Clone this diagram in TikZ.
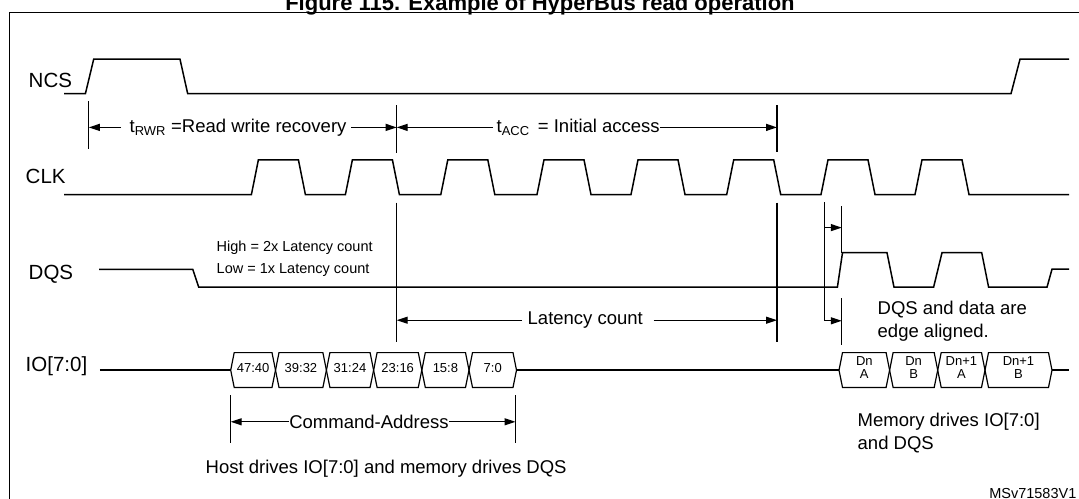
\documentclass[tikz,border=0pt]{standalone}
\usepackage{fontspec}
\setmainfont{Liberation Sans}
\usetikzlibrary{arrows.meta}
\begin{document}
\begin{tikzpicture}[x=1pt,y=-1pt,line width=1.4pt,
  wave/.style={line width=1.5pt,line join=miter},
  dim/.style={line width=1.3pt},
  arr/.style={dim,-{Triangle[length=11pt,width=7pt]}},
  lbl/.style={font=\fontsize{20.5}{23}\selectfont,anchor=west,inner sep=0},
  txt/.style={font=\fontsize{18.5}{23}\selectfont,inner sep=0},
  small/.style={font=\fontsize{14.5}{17}\selectfont,inner sep=0},
  boxt/.style={font=\fontsize{13}{13}\selectfont,inner sep=0,align=center}]
\useasboundingbox (0,0) rectangle (1079,498);
\fill[white] (0,0) rectangle (1079,498);
% title and frame
\node[font=\bfseries\fontsize{22}{26}\selectfont,anchor=base,inner sep=0] (title) at (540,10) {Figure 115. Example of HyperBus read operation};
\draw[line width=1.6pt] (9.3,520) -- (9.3,12.4) -- (1090,12.4);
% labels
\node[lbl] (ncs) at (28,80) {NCS};
\node[lbl] (clk) at (25,176) {CLK};
\node[lbl] (dqs) at (28,274) {DQS};
\node[lbl] (io) at (25,366) {IO[7:0]};
% NCS
\draw[wave] (64,93.7) -- (85.4,93.7) -- (93.7,59.2) -- (180,59.2) -- (187.7,93.7) -- (1011,93.7) -- (1020,59.2) -- (1069,59.2);
% CLK
\draw[wave] (64,194.6)
  \foreach \r in {251.4,345.4,440.8,537,631,726.7,821,915}{
    -- (\r,194.6) -- (\r+7,159.8) -- (\r+47,159.8) -- (\r+54,194.6)}
  -- (1069,194.6);
% DQS
\draw[wave] (99,269.3) -- (192.8,269.3) -- (198.7,287.2) -- (837.4,287.2) -- (842.5,252.7) -- (887,252.7) -- (894,287.2) -- (933.6,287.2) -- (942,252.7) -- (981.7,252.7) -- (988.6,287.2) -- (1047,287.2) -- (1052,269.2) -- (1069,269.2);
\node[small,anchor=west] (hi) at (216,247.6) {High = 2x Latency count};
\node[small,anchor=west] (lo) at (216,270) {Low = 1x Latency count};
% IO bus
\draw[wave] (99.9,370.2) -- (230.7,370.2);
\draw[wave] (516.5,370.2) -- (839,370.2);
\draw[wave] (1052,370.2) -- (1069,370.2);
\foreach \a/\b/\t in {230.7/275.5/47:40,275.5/326.4/39:32,326.4/373.6/31:24,373.6/421.8/23:16,421.8/469/15:8,469/516.5/7:0,
  839/889.6/{Dn\\A},889.6/937.7/{Dn\\B},937.7/985/{Dn+1\\A},985/1052/{Dn+1\\B}}{
  \draw[line width=1.2pt,line join=miter] (\a,370.2) -- (\a+3.5,352.6) -- (\b-3.5,352.6) -- (\b,370.2) -- (\b-3.5,387.4) -- (\a+3.5,387.4) -- cycle;
  \node[boxt] at ({(\a+\b)/2},368) {\t};
}
% timing markers
\coordinate (b1t) at (88.8,101); \coordinate (b1b) at (88.8,149);
\coordinate (b2t) at (396.7,105); \coordinate (b2b) at (396.7,153);
\coordinate (b3t) at (777,105); \coordinate (b3b) at (777,152);
\draw[dim] (b1t) -- (b1b); \draw[dim] (b2t) -- (b2b); \draw[dim] (b3t) -- (b3b);
\node[txt,anchor=west] (trwr) at (129,127.4) {t\textsubscript{RWR} =Read write recovery};
\node[txt,anchor=west] (tacc) at (496,127.4) {t\textsubscript{ACC}\, = Initial access};
\draw[arr] (trwr.west) ++(-8,0) -- (88.8,127.4);
\draw[arr] (trwr.east) ++(4,0) -- (396.7,127.4);
\draw[arr] (tacc.west) ++(-3,0) -- (396.7,127.4);
\draw[arr] (tacc.east) -- (777,127.4);
% latency lines
\coordinate (l1t) at (396.7,202.5); \coordinate (l1b) at (396.7,341.6);
\coordinate (l2t) at (777,202.5); \coordinate (l2b) at (777,341.6);
\draw[dim] (l1t) -- (l1b); \draw[dim] (l2t) -- (l2b);
\node[txt,anchor=west] (lat) at (527,320.2) {Latency count};
\draw[arr] (lat.west) ++(-5,0) -- (396.7,320.2);
\draw[arr] (lat.east) ++(10,0) -- (777,320.2);
% edge alignment
\coordinate (e0) at (824.6,202); \coordinate (e1) at (824.6,320.8);
\coordinate (f1t) at (841.8,206); \coordinate (f1b) at (841.8,252.7);
\coordinate (f2t) at (841.8,298.4); \coordinate (f2b) at (841.8,344.8);
\draw[dim] (e0) -- (e1); \draw[dim] (f1t) -- (f1b); \draw[dim] (f2t) -- (f2b);
\draw[arr] (824.6,227.6) -- (841.8,227.6);
\draw[arr] (e1) -- (841.8,320.8);
\node[txt,anchor=west,align=left] (edge) at (877,321) {DQS and data are\\edge aligned.};
% command-address
\coordinate (c1t) at (230.7,395); \coordinate (c1b) at (230.7,442.5);
\coordinate (c2t) at (515.5,395); \coordinate (c2b) at (515.5,442.5);
\draw[dim] (c1t) -- (c1b); \draw[dim] (c2t) -- (c2b);
\node[txt,anchor=west] (ca) at (288.6,421.8) {Command-Address};
\draw[arr] (ca.west) -- (230.7,421.8);
\draw[arr] (ca.east) -- (515.5,421.8);
\node[txt,anchor=west] (host) at (205,469) {Host drives IO[7:0] and memory drives DQS};
\node[txt,anchor=west,align=left] (mem) at (857,433) {Memory drives IO[7:0]\\and DQS};
\node[small,anchor=west] (ms) at (988.6,494) {MSv71583V1};
\end{tikzpicture}
\end{document}
